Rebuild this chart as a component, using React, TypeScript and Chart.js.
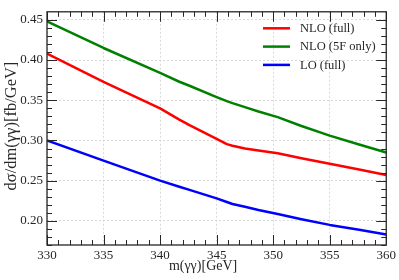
import React, { useEffect, useRef } from "react";
import { Chart, registerables } from "chart.js";

Chart.register(...registerables);

const masses = [330, 335, 340, 341.7, 342.6, 345, 345.9, 346.4, 347.5, 348.7, 350.4, 352.5, 355, 357.6, 360];
const nloFull = [0.408, 0.373, 0.340, 0.326, 0.319, 0.302, 0.2955, 0.2935, 0.290, 0.2875, 0.284, 0.278, 0.271, 0.264, 0.257];
const nlo5F = [0.448, 0.415, 0.384, 0.373, 0.368, 0.354, 0.349, 0.3465, 0.3415, 0.336, 0.329, 0.318, 0.306, 0.295, 0.285];
const loFull = [0.300, 0.275, 0.250, 0.2425, 0.2385, 0.228, 0.2235, 0.221, 0.2175, 0.2135, 0.2085, 0.202, 0.195, 0.189, 0.183];

const seriesLabels = ["NLO (full)", "NLO (5F only)", "LO (full)"];
const seriesColors = ["#ff0000", "#008000", "#0000ff"];

const xTicks = [330, 335, 340, 345, 350, 355, 360];
const yTicks = [0.2, 0.25, 0.3, 0.35, 0.4, 0.45];
const xRange = [330, 360];
const yRange = [0.17, 0.46];
const xMinorStep = 1;
const yMinorStep = 0.01;

const xTitle = "m(γγ)[GeV]";
const yTitle = "dσ/dm(γγ)[fb/GeV]";

const FONT = "'Liberation Serif', 'Times New Roman', serif";
const INK = "#262626";

const decorPlugin = {
  id: "decor",
  afterDraw(chart: any) {
    const { ctx, chartArea, scales } = chart;
    const { left, right, top, bottom } = chartArea;
    const x = scales.x;
    const y = scales.y;
    ctx.save();
    ctx.strokeStyle = INK;
    ctx.lineWidth = 1;
    const seg = (x1: number, y1: number, x2: number, y2: number) => {
      ctx.beginPath();
      ctx.moveTo(x1, y1);
      ctx.lineTo(x2, y2);
      ctx.stroke();
    };
    // x ticks (inward, mirrored)
    for (let i = 0; ; i++) {
      const v = xRange[0] + i * xMinorStep;
      if (v > xRange[1] + 1e-9) break;
      const px = Math.round(x.getPixelForValue(v)) + 0.5;
      const major = xTicks.some((t) => Math.abs(t - v) < 1e-6);
      const len = major ? 10 : 5;
      seg(px, bottom, px, bottom - len);
      seg(px, top, px, top + len);
    }
    // y ticks (inward, mirrored)
    for (let i = 0; ; i++) {
      const v = yRange[0] + i * yMinorStep;
      if (v > yRange[1] - 1e-9) break;
      const py = Math.round(y.getPixelForValue(v)) + 0.5;
      const major = yTicks.some((t) => Math.abs(t - v) < 1e-6);
      const len = major ? 10 : 5;
      seg(left, py, left + len, py);
      seg(right, py, right - len, py);
    }
    // frame
    ctx.lineWidth = 1.3;
    ctx.strokeRect(left, top, right - left, bottom - top);

    // axis titles
    ctx.fillStyle = INK;
    ctx.textAlign = "center";
    ctx.textBaseline = "middle";
    ctx.font = `14px ${FONT}`;
    ctx.fillText(xTitle, left + (right - left) * 0.46, bottom + 21);
    ctx.save();
    ctx.translate(12, top + (bottom - top) * 0.49);
    ctx.rotate(-Math.PI / 2);
    ctx.font = `16.5px ${FONT}`;
    ctx.fillText(yTitle, 0, 0);
    ctx.restore();

    // legend
    const ds = chart.data.datasets;
    ctx.font = `12.5px ${FONT}`;
    ctx.textBaseline = "middle";
    ctx.textAlign = "left";
    for (let i = 0; i < ds.length; i++) {
      const ly = top + 16.5 + i * 18.3;
      ctx.strokeStyle = ds[i].borderColor;
      ctx.lineWidth = 2.5;
      seg(263, ly, 290, ly);
      ctx.fillStyle = INK;
      ctx.fillText(ds[i].label, 300, ly + 0.5);
    }
    ctx.restore();
  },
};

export default function App() {
  const canvasRef = useRef<HTMLCanvasElement | null>(null);

  useEffect(() => {
    const canvas = canvasRef.current;
    if (!canvas) return;
    const seriesValues = [nloFull, nlo5F, loFull];
    const chart = new Chart(canvas, {
      type: "line",
      data: {
        datasets: seriesValues.map((vals, i) => ({
          label: seriesLabels[i],
          data: masses.map((m, j) => ({ x: m, y: vals[j] })),
          borderColor: seriesColors[i],
          backgroundColor: seriesColors[i],
          borderWidth: 2.5,
          borderJoinStyle: "round",
          pointRadius: 0,
          tension: 0,
          fill: false,
        })),
      },
      options: {
        animation: false,
        responsive: false,
        devicePixelRatio: 1,
        layout: { padding: { top: 2, right: 10, left: 0, bottom: 0 } },
        plugins: {
          legend: { display: false },
          tooltip: { enabled: false },
        },
        scales: {
          x: {
            type: "linear",
            min: xRange[0],
            max: xRange[1],
            afterBuildTicks: (s: any) => {
              s.ticks = xTicks.map((v) => ({ value: v }));
            },
            afterFit: (s: any) => {
              s.height = 35;
            },
            grid: { color: "#d2d2d2", lineWidth: 0.8, drawTicks: false, tickLength: 0 },
            border: { display: false, dash: [2, 2] },
            ticks: {
              padding: 3,
              color: INK,
              maxRotation: 0,
              font: { family: FONT, size: 13 },
              callback: (v: any) => String(v),
            },
            title: { display: false },
          },
          y: {
            type: "linear",
            min: yRange[0],
            max: yRange[1],
            afterBuildTicks: (s: any) => {
              s.ticks = yTicks.map((v) => ({ value: v }));
            },
            afterFit: (s: any) => {
              s.width = 47;
            },
            grid: { color: "#d2d2d2", lineWidth: 0.8, drawTicks: false, tickLength: 0 },
            border: { display: false, dash: [2, 2] },
            ticks: {
              padding: 4,
              color: INK,
              font: { family: FONT, size: 13 },
              callback: (v: any) => Number(v).toFixed(2),
            },
            title: { display: false },
          },
        },
      },
      plugins: [decorPlugin],
    } as any);
    return () => chart.destroy();
  }, []);

  return (
    <div style={{ position: "fixed", left: 0, top: 0, width: 399, height: 280, background: "#fff" }}>
      <canvas ref={canvasRef} width={399} height={280} style={{ display: "block" }} />
    </div>
  );
}
